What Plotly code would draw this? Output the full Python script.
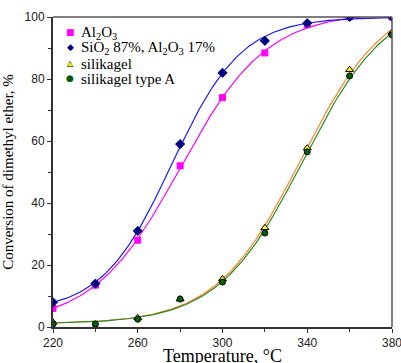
import numpy as np
import plotly.graph_objects as go

temperature = [220, 240, 260, 280, 300, 320, 340, 360, 380]
al2o3 = [6, 13.5, 28, 52, 74, 88.4, 97.5, 100, 100]
sio2_al2o3 = [8, 14, 31, 59, 82, 92.3, 98, 100, 100]
silikagel = [1.5, 0, 3, 9, 15.5, 32, 57.7, 83, 95]
silikagel_a = [1, 1, 2.5, 9, 14.5, 30.3, 56.5, 81, 94.2]

names = ["Al<sub>2</sub>O<sub>3</sub>",
         "SiO<sub>2</sub> 87%, Al<sub>2</sub>O<sub>3</sub> 17%",
         "silikagel",
         "silikagel type A"]
x_title = "Temperature, °C"
y_title = "Conversion of dimethyl ether, %"


def logistic_fit(x, y):
    x = np.asarray(x, float)
    y = np.asarray(y, float)
    best = None
    for x0 in np.linspace(240, 380, 141):
        for w in np.linspace(5, 40, 71):
            s = 1 / (1 + np.exp(-(x - x0) / w))
            M = np.column_stack([np.ones_like(s), s])
            coef, *_ = np.linalg.lstsq(M, y, rcond=None)
            r = ((M @ coef - y) ** 2).sum()
            if best is None or r < best[0]:
                best = (r, x0, w, coef)
    _, x0, w, coef = best
    xs = np.linspace(x.min(), x.max(), 200)
    ys = coef[0] + coef[1] / (1 + np.exp(-(xs - x0) / w))
    return xs, ys


fig = go.Figure()

series = [
    (al2o3, "#ff00ff", "square", "#ff00ff", "#ff00ff", 6),
    (sio2_al2o3, "#1a1aff", "diamond", "#000080", "#000080", 7),
    (silikagel, "#ff7f27", "triangle-up", "#ffff00", "#000000", 7),
    (silikagel_a, "#228b22", "circle", "#006400", "#000000", 6),
]

for (vals, lc, sym, fc, ec, sz), nm in zip(series, names):
    xs, ys = logistic_fit(temperature, vals)
    fig.add_trace(go.Scatter(x=xs, y=ys, mode="lines",
                             line=dict(color=lc, width=1.2),
                             showlegend=False, hoverinfo="skip"))

for (vals, lc, sym, fc, ec, sz), nm in zip(series, names):
    fig.add_trace(go.Scatter(x=temperature, y=vals, mode="markers", name=nm,
                             showlegend=False,
                             marker=dict(symbol=sym, color=fc, size=sz,
                                         line=dict(color=ec, width=1))))

# legend drawn as text (glyph + label), placed in the upper-left of the plot
W, H, L, T = 339.0, 310.0, 53.0, 17.0
def px(xp):
    return (xp - L) / W
def py(yp):
    return (T + H - yp) / H

legend_rows = [32, 47, 63, 78]
glyphs = [
    [("■", "#ff00ff", 9)],
    [("◆", "#000080", 9)],
    [("▲", "#ffff00", 8), ("△", "#000000", 8)],
    [("●", "#005a00", 9)],
]
for row, gl, nm in zip(legend_rows, glyphs, names):
    for ch, col, fs in gl:
        fig.add_annotation(x=px(70), y=py(row), xref="paper", yref="paper",
                           text=ch, showarrow=False, xanchor="center",
                           yanchor="middle",
                           font=dict(family="DejaVu Sans", size=fs, color=col))
    fig.add_annotation(x=px(80), y=py(row + 1), xref="paper", yref="paper",
                       text=nm, showarrow=False, xanchor="left",
                       yanchor="middle", borderpad=0,
                       font=dict(family="Liberation Serif", size=15,
                                 color="black"))

# x-axis title (placed lower than plotly's margin-constrained title allows)
fig.add_annotation(x=0.5, y=py(356), xref="paper", yref="paper",
                   text=x_title, showarrow=False, xanchor="center",
                   yanchor="middle", borderpad=0,
                   font=dict(family="Liberation Serif", size=18, color="black"))

fig.update_layout(
    width=401, height=363,
    margin=dict(l=53, r=9, t=17, b=36),
    paper_bgcolor="white", plot_bgcolor="white",
    showlegend=False,
    font=dict(family="Liberation Sans", size=12, color="black"),
)

fig.update_xaxes(range=[220, 380], tickvals=[220, 260, 300, 340, 380],
                 ticks="outside", ticklen=4, tickwidth=1, tickcolor="#333",
                 minor=dict(tickvals=[240, 280, 320, 360], ticks="outside",
                            ticklen=3, tickcolor="#333"),
                 showline=True, linecolor="#333", linewidth=2, mirror=False,
                 showgrid=False, zeroline=False, automargin=False,
                 ticklabeloverflow="allow",
                 tickfont=dict(family="Liberation Sans", size=12, color="#222"))
fig.update_yaxes(range=[0, 100], tickvals=[0, 20, 40, 60, 80, 100],
                 ticks="outside", ticklen=4, tickwidth=1, tickcolor="#333",
                 minor=dict(tickvals=[10, 30, 50, 70, 90], ticks="outside",
                            ticklen=3, tickcolor="#333"),
                 showline=True, linecolor="#333", linewidth=2,
                 showgrid=False, zeroline=False, automargin=False,
                 tickfont=dict(family="Liberation Sans", size=12, color="#222"),
                 title=dict(text=y_title, standoff=8,
                            font=dict(family="Liberation Serif", size=15)))

# top and right frame
fig.add_shape(type="line", xref="paper", yref="paper", x0=0, x1=1, y0=1, y1=1,
              line=dict(color="#555", width=1.5))
fig.add_shape(type="line", xref="paper", yref="paper", x0=1, x1=1, y0=0, y1=1,
              line=dict(color="#555", width=1.5))

fig.write_html("out.html")
